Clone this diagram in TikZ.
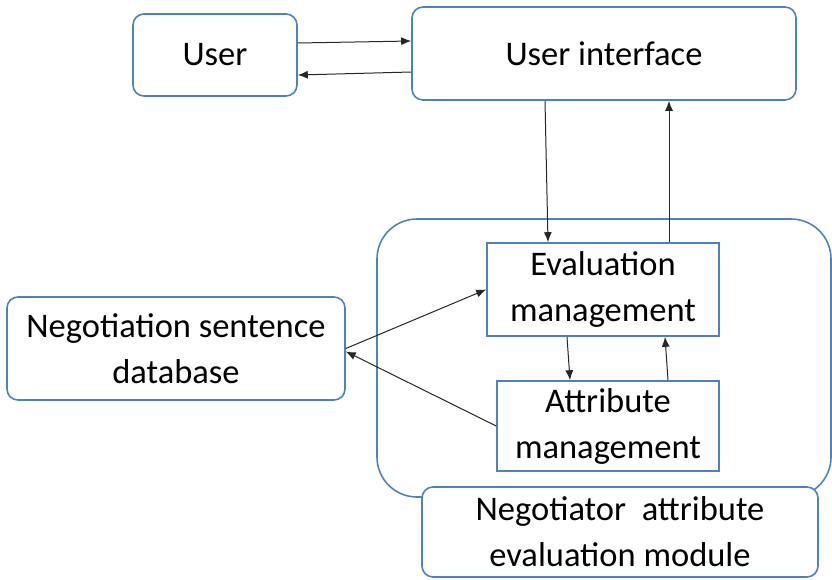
\documentclass[tikz,border=0pt]{standalone}
\usepackage{fontspec}
\setmainfont{Carlito}
\usetikzlibrary{arrows.meta}
\definecolor{boxblue}{HTML}{4F81BD}
\tikzset{
  rbox/.style={draw=boxblue, line width=1.6pt, rounded corners=11pt, fill=white,
    align=center, inner sep=0pt, font=\fontsize{34.5}{46}\selectfont},
  sbox/.style={draw=boxblue, line width=1.6pt, fill=white,
    align=center, inner sep=0pt, font=\fontsize{34.5}{46}\selectfont},
  link/.style={draw=black!85, line width=1pt, -{Latex[length=10pt,width=8pt]}}
}
\begin{document}
\begin{tikzpicture}[x=1pt, y=-1pt]
\useasboundingbox (0,0) rectangle (832,579);
% module container
\node[draw=boxblue, line width=1.6pt, rounded corners=40pt, minimum width=454pt, minimum height=278pt, inner sep=0pt] (cont) at (604,358) {};
% boxes
\node[rbox, minimum width=164pt, minimum height=82pt] (user) at (215,55) {User};
\node[rbox, minimum width=384pt, minimum height=93pt] (ui) at (604,53.5) {User interface};
\node[sbox, minimum width=232pt, minimum height=93pt] (eval) at (603,289.5) {Evaluation\\management};
\node[sbox, minimum width=222pt, minimum height=90pt] (attr) at (608,426) {Attribute\\management};
\node[rbox, minimum width=338pt, minimum height=103pt] (db) at (176,348.5) {Negotiation sentence\\database};
\node[rbox, minimum width=396pt, minimum height=90pt] (mod) at (620,532) {Negotiator\ \ attribute\\evaluation module};
% connectors
\draw[link] ([yshift=12pt]user.east) -- ([yshift=12.5pt]ui.west);
\draw[link] ([yshift=-18.5pt]ui.west) -- ([yshift=-20pt]user.east);
\draw[link] ([xshift=-59pt]ui.south) -- ([xshift=-55pt]eval.north);
\draw[link] ([xshift=66pt]eval.north) -- ([xshift=65pt]ui.south);
\draw[link] ([xshift=-36pt]eval.south) -- ([xshift=-38pt]attr.north);
\draw[link] ([xshift=60pt]attr.north) -- ([xshift=62pt]eval.south);
\draw[link] (db.east) -- (eval.west);
\draw[link] (attr.west) -- ([yshift=-3pt]db.east);
\end{tikzpicture}
\end{document}
